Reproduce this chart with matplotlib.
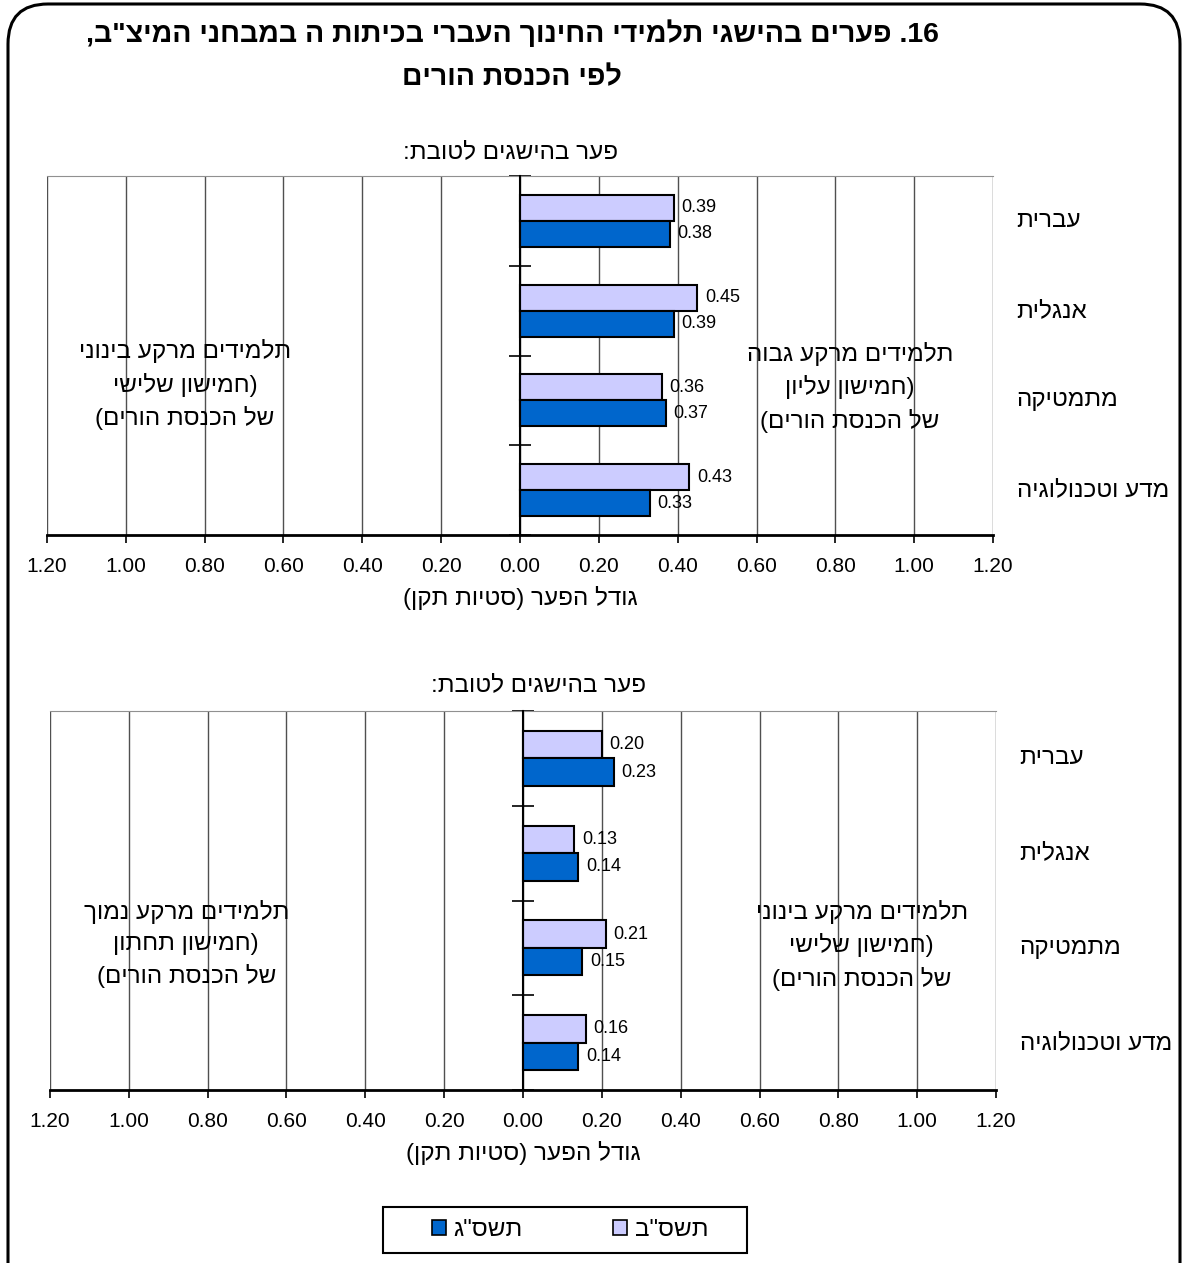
import re
import numpy as np
import matplotlib
matplotlib.use('Agg')
import matplotlib.pyplot as plt
import matplotlib.transforms as mtransforms
from matplotlib.patches import FancyBboxPatch, Patch, Rectangle
from matplotlib.ticker import FuncFormatter, MultipleLocator

plt.rcParams['font.family'] = ['Liberation Sans', 'DejaVu Sans']

# data
subjects = ['עברית', 'אנגלית', 'מתמטיקה', 'מדע וטכנולוגיה']
years = ['תשס"ב', 'תשס"ג']
high_tashsab = [0.39, 0.45, 0.36, 0.43]
high_tashsag = [0.38, 0.39, 0.37, 0.33]
low_tashsab = [0.20, 0.13, 0.21, 0.16]
low_tashsag = [0.23, 0.14, 0.15, 0.14]

title = '16. פערים בהישגי תלמידי החינוך העברי בכיתות ה במבחני המיצ"ב,\nלפי הכנסת הורים'
subtitle = 'פער בהישגים לטובת:'
xlabel = 'גודל הפער (סטיות תקן)'
top_right_note = 'תלמידים מרקע גבוה\n(חמישון עליון\nשל הכנסת הורים)'
top_left_note = 'תלמידים מרקע בינוני\n(חמישון שלישי\nשל הכנסת הורים)'
bot_right_note = 'תלמידים מרקע בינוני\n(חמישון שלישי\nשל הכנסת הורים)'
bot_left_note = 'תלמידים מרקע נמוך\n(חמישון תחתון\nשל הכנסת הורים)'

light = '#CCCCFF'
dark = '#0066CC'
heb = 17.5  # hebrew text size


def vis(s):
    # crude logical -> visual order for RTL text, line by line
    out = []
    for line in s.split('\n'):
        r = line[::-1].translate(str.maketrans('()', ')('))
        r = re.sub(r'\d+(?:\.\d+)*', lambda m: m.group(0)[::-1], r)
        out.append(r)
    return '\n'.join(out)


W, H = 1184, 1263
fig = plt.figure(figsize=(W / 100, H / 100), dpi=100)
px = mtransforms.IdentityTransform()

frame = FancyBboxPatch((8, -60), 1172, 1319,
                       boxstyle='round,pad=0,rounding_size=40',
                       transform=px, facecolor='none', edgecolor='black', lw=2.2)
fig.add_artist(frame)

fig.text(512 / W, 1 - 56 / H, vis(title), ha='center', va='center',
         fontsize=20.5, fontweight='bold', linespacing=1.85)


def panel(rect, v1, v2, left_note, right_note, note_pos, sub_x):
    ax = fig.add_axes(rect)
    y = np.arange(len(subjects))
    h = 0.29
    b1 = ax.barh(y - h / 2, v1, height=h, color=light, edgecolor='black', lw=1.5)
    b2 = ax.barh(y + h / 2, v2, height=h, color=dark, edgecolor='black', lw=1.5)
    for bars, vals in ((b1, v1), (b2, v2)):
        for r, v in zip(bars, vals):
            ax.annotate(f'{v:.2f}', (r.get_width(), r.get_y() + r.get_height() / 2),
                        xytext=(5.5, 0), textcoords='offset points',
                        ha='left', va='center', fontsize=13)
    ax.set_xlim(-1.2, 1.2)
    ax.set_ylim(len(subjects) - 0.5, -0.5)
    ax.xaxis.set_major_locator(MultipleLocator(0.2))
    ax.xaxis.set_major_formatter(FuncFormatter(lambda x, p: f'{abs(x):.2f}'))
    ax.grid(axis='x', color='#505050', lw=1)
    ax.set_axisbelow(True)
    ax.tick_params(axis='x', direction='out', length=6, width=1.2, pad=10,
                   labelsize=15)
    ax.set_xlabel(vis(xlabel), fontsize=heb, labelpad=7)

    ax.spines['left'].set_position(('data', 0))
    ax.spines['left'].set_linewidth(1.5)
    ax.spines['left'].set_zorder(3)
    ax.set_yticks(np.arange(len(subjects) + 1) - 0.5)
    ax.set_yticklabels([])
    ax.tick_params(axis='y', direction='inout', length=16, width=1.2)
    ax.spines['right'].set_visible(False)
    ax.spines['top'].set_color('#909090')
    ax.spines['bottom'].set_linewidth(2)

    tr = mtransforms.blended_transform_factory(ax.transAxes, ax.transData)
    for i, s in enumerate(subjects):
        ax.text(1.025, i, vis(s), transform=tr, ha='left', va='center',
                fontsize=heb)

    ax.text(sub_x, 1.068, vis(subtitle), transform=ax.transAxes,
            ha='center', va='center', fontsize=heb)
    ax.text(note_pos[0], note_pos[2], vis(left_note), transform=ax.transAxes,
            ha='center', va='center', fontsize=heb, linespacing=1.5)
    ax.text(note_pos[1], note_pos[3], vis(right_note), transform=ax.transAxes,
            ha='center', va='center', fontsize=heb, linespacing=1.5)
    return ax


ax1 = panel([47 / W, 1 - 535 / H, 946 / W, 359 / H], high_tashsab, high_tashsag,
            top_left_note, top_right_note, (0.146, 0.849, 0.418, 0.412), 0.4905)
ax2 = panel([50 / W, 1 - 1090 / H, 946 / W, 379 / H], low_tashsab, low_tashsag,
            bot_left_note, bot_right_note, (0.144, 0.858, 0.385, 0.382), 0.516)

handles = [Patch(facecolor=dark, edgecolor='black', lw=1.2, label=vis(years[1])),
           Patch(facecolor=light, edgecolor='black', lw=1.2, label=vis(years[0]))]
leg = fig.legend(handles=handles, loc='center', bbox_to_anchor=(570 / W, 1 - 1230 / H),
                 ncol=2, fontsize=heb, frameon=False,
                 handlelength=0.6, handleheight=0.6,
                 columnspacing=3.7, handletextpad=0.3, borderpad=0.45,
                 borderaxespad=0)
fig.add_artist(Rectangle((383, H - 1253), 364, 46, transform=px,
                         facecolor='none', edgecolor='black', lw=1.5))

fig.savefig('out.png', dpi=100)
